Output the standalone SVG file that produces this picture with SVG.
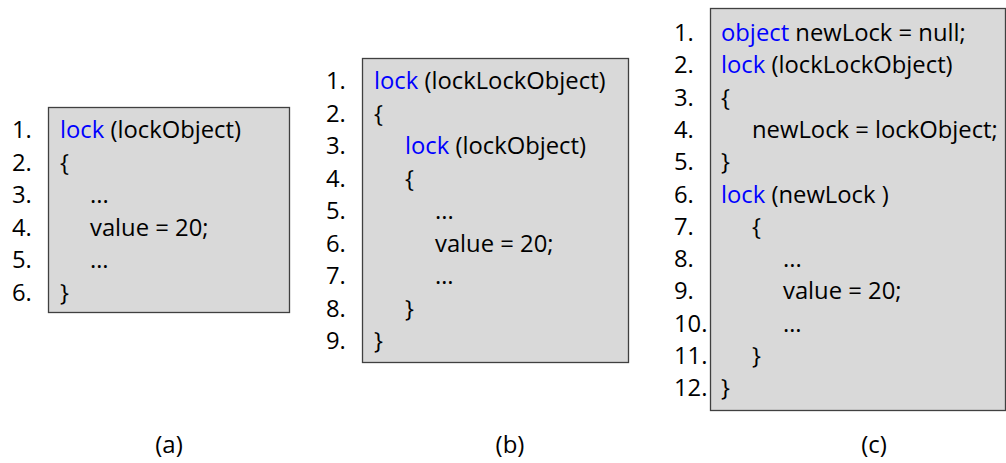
<svg xmlns="http://www.w3.org/2000/svg" width="1006" height="463" viewBox="0 0 1006 463">
<style>
text{font-family:"Open Sans","Liberation Sans",sans-serif;font-size:23.8px;fill:#000}
.kw{fill:#0000ff}
.box{fill:#d9d9d9;stroke:#404040;stroke-width:1.3}
.cap{font-size:24px}
</style>
<rect width="1006" height="463" fill="#fff"/>
<g id="connectors"/>
<g id="panel-a">
<rect class="box" x="48.5" y="107.5" width="241" height="205"/>
<text x="12" y="138">1.</text>
<text x="12" y="170.5">2.</text>
<text x="12" y="203">3.</text>
<text x="12" y="235.5">4.</text>
<text x="12" y="268">5.</text>
<text x="12" y="300.5">6.</text>
<text x="60" y="138"><tspan class="kw">lock</tspan> (lockObject)</text>
<text x="60" y="170.5">{</text>
<text x="90" y="203">...</text>
<text x="90" y="235.5">value = 20;</text>
<text x="90" y="268">…</text>
<text x="60" y="300.5">}</text>
</g>
<g id="panel-b">
<rect class="box" x="362.5" y="58.5" width="266" height="304"/>
<text x="326" y="89">1.</text>
<text x="326" y="121.5">2.</text>
<text x="326" y="154">3.</text>
<text x="326" y="186.5">4.</text>
<text x="326" y="219">5.</text>
<text x="326" y="251.5">6.</text>
<text x="326" y="284">7.</text>
<text x="326" y="316.5">8.</text>
<text x="326" y="349">9.</text>
<text x="374" y="89"><tspan class="kw">lock</tspan> (lockLockObject)</text>
<text x="374" y="121.5">{</text>
<text x="405" y="154"><tspan class="kw">lock</tspan> (lockObject)</text>
<text x="405" y="186.5">{</text>
<text x="435" y="219">...</text>
<text x="435" y="251.5">value = 20;</text>
<text x="435" y="284">…</text>
<text x="405" y="316.5">}</text>
<text x="374" y="349">}</text>
</g>
<g id="panel-c">
<rect class="box" x="710.5" y="8.5" width="295" height="402"/>
<text x="674" y="41">1.</text>
<text x="674" y="73.3">2.</text>
<text x="674" y="105.6">3.</text>
<text x="674" y="137.9">4.</text>
<text x="674" y="170.2">5.</text>
<text x="674" y="202.5">6.</text>
<text x="674" y="234.8">7.</text>
<text x="674" y="267.1">8.</text>
<text x="674" y="299.4">9.</text>
<text x="674" y="331.7">10.</text>
<text x="674" y="364">11.</text>
<text x="674" y="396.3">12.</text>
<text x="721" y="41"><tspan class="kw">object</tspan> newLock = null;</text>
<text x="721" y="73.3"><tspan class="kw">lock</tspan> (lockLockObject)</text>
<text x="721" y="105.6">{</text>
<text x="752" y="137.9">newLock = lockObject;</text>
<text x="721" y="170.2">}</text>
<text x="721" y="202.5"><tspan class="kw">lock</tspan> (newLock )</text>
<text x="752" y="234.8">{</text>
<text x="783" y="267.1">...</text>
<text x="783" y="299.4">value = 20;</text>
<text x="783" y="331.7">…</text>
<text x="752" y="364">}</text>
<text x="721" y="396.3">}</text>
</g>
<g id="captions">
<text class="cap" x="169" y="453" text-anchor="middle">(a)</text>
<text class="cap" x="510" y="453" text-anchor="middle">(b)</text>
<text class="cap" x="874" y="453" text-anchor="middle">(c)</text>
</g>
</svg>
